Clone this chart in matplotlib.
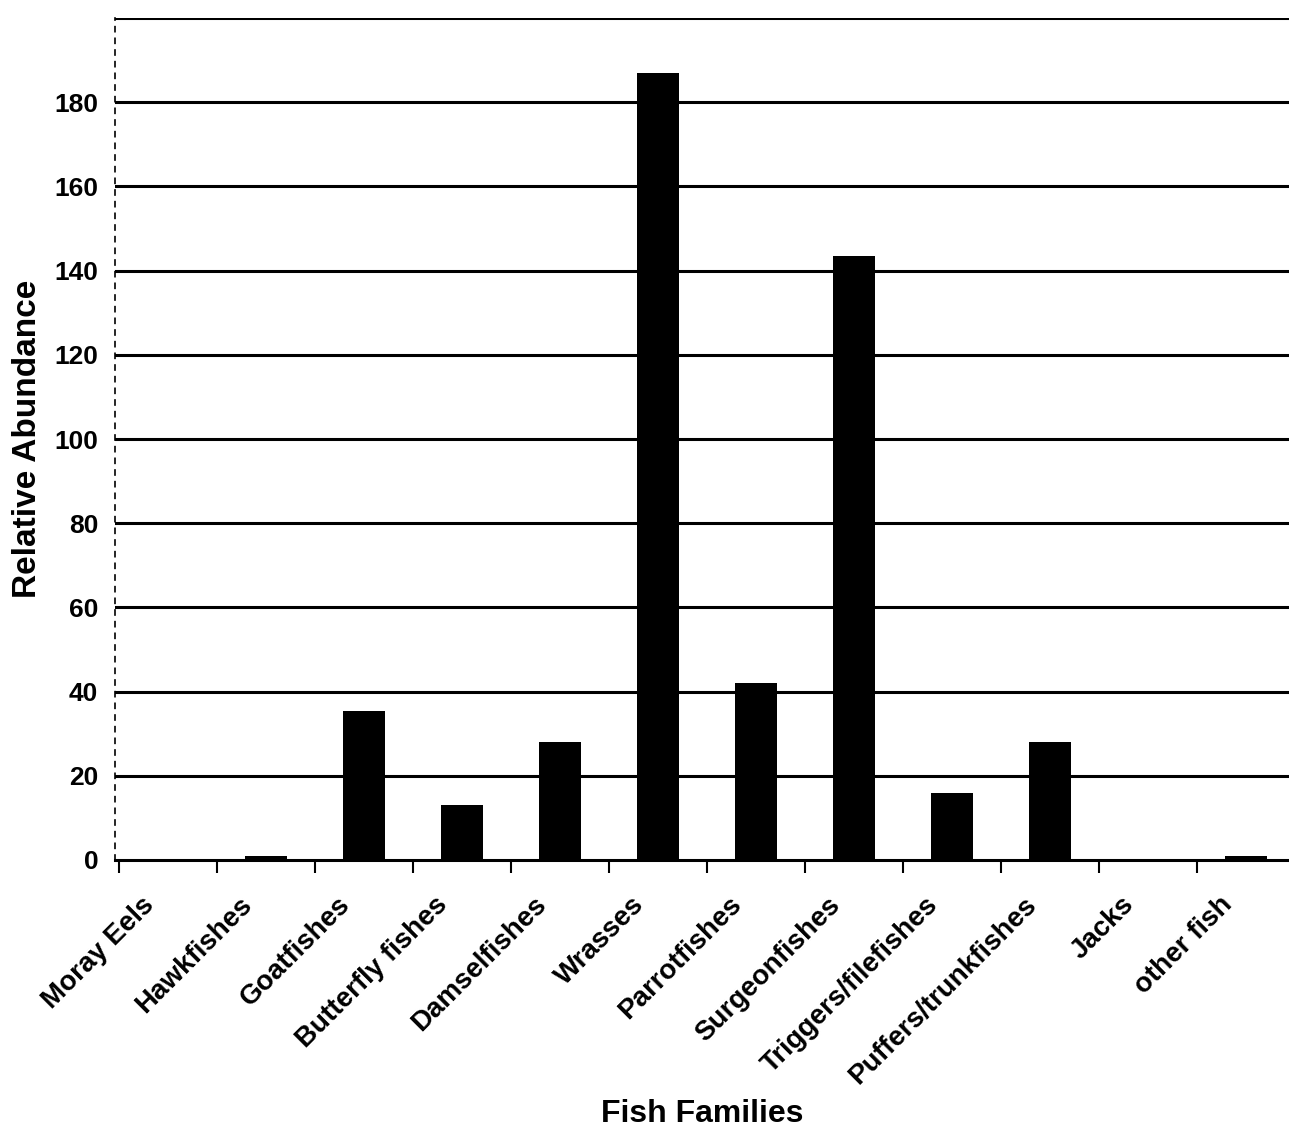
import matplotlib.pyplot as plt
from matplotlib.transforms import ScaledTranslation

plt.rcParams['font.family'] = ['Liberation Sans', 'DejaVu Sans']

families = ['Moray Eels', 'Hawkfishes', 'Goatfishes', 'Butterfly fishes', 'Damselfishes',
            'Wrasses', 'Parrotfishes', 'Surgeonfishes', 'Triggers/filefishes',
            'Puffers/trunkfishes', 'Jacks', 'other fish']
abundance = [0, 1, 35.5, 13, 28, 187, 42, 143.5, 16, 28, 0, 1]
y_ticks = [0, 20, 40, 60, 80, 100, 120, 140, 160, 180]

fig = plt.figure(figsize=(12.89, 11.30), dpi=100)
ax = fig.add_axes([0.0892, 0.239, 0.9108, 0.745])

x = list(range(len(families)))
ax.bar(x, abundance, width=0.43, color='black', zorder=3)

for v in range(20, 201, 20):
    ax.axhline(v, color='black', lw=2.2, zorder=1)

ax.set_xlim(-0.54, 11.44)
ax.set_ylim(0, 200)

for s in ['top', 'right']:
    ax.spines[s].set_visible(False)
ax.spines['left'].set_linestyle((0, (3, 4)))
ax.spines['left'].set_linewidth(1.2)
ax.spines['bottom'].set_linewidth(2.2)

ax.set_yticks(y_ticks)
ax.set_yticklabels([str(v) for v in y_ticks], fontsize=19, fontweight='bold')
ax.tick_params(axis='y', length=0, pad=12)

ax.set_xticks([i - 0.5 for i in range(len(families))], minor=False)
ax.set_xticklabels([])
ax.tick_params(axis='x', which='major', length=9, width=1.5, direction='out')
ax.set_xticks(x, minor=True)
ax.set_xticklabels(families, minor=True, rotation=45, ha='right',
                   rotation_mode='anchor', fontsize=20, fontweight='bold')
ax.tick_params(axis='x', which='minor', length=0, pad=23)
shift = ScaledTranslation(-27 / 100, 0, fig.dpi_scale_trans)
for lbl in ax.get_xticklabels(minor=True):
    lbl.set_transform(lbl.get_transform() + shift)

ax.set_ylabel('Relative Abundance', fontsize=24, fontweight='bold', labelpad=8)
fig.text(0.545, 0.007, 'Fish Families', fontsize=23, fontweight='bold', ha='center')

fig.savefig('out.png', dpi=100, facecolor='white')
